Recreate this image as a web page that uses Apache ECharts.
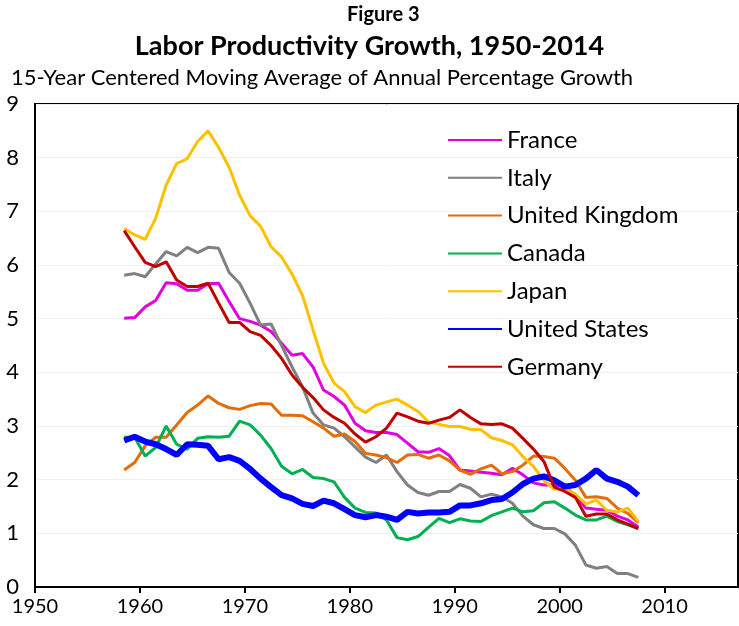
<!DOCTYPE html>
<html>
<head>
<meta charset="utf-8">
<script src="https://cdn.jsdelivr.net/npm/echarts@6/dist/echarts.min.js"></script>
<style>
  html, body { margin: 0; padding: 0; background: #fff; }
  #chart { width: 739px; height: 626px; }
</style>
</head>
<body>
<div id="chart"></div>
<script>
// centre year of each 15-year window
var years = [1958.5, 1959.5, 1960.5, 1961.5, 1962.5, 1963.5, 1964.5, 1965.5, 1966.5, 1967.5,
  1968.5, 1969.5, 1970.5, 1971.5, 1972.5, 1973.5, 1974.5, 1975.5, 1976.5, 1977.5,
  1978.5, 1979.5, 1980.5, 1981.5, 1982.5, 1983.5, 1984.5, 1985.5, 1986.5, 1987.5,
  1988.5, 1989.5, 1990.5, 1991.5, 1992.5, 1993.5, 1994.5, 1995.5, 1996.5, 1997.5,
  1998.5, 1999.5, 2000.5, 2001.5, 2002.5, 2003.5, 2004.5, 2005.5, 2006.5, 2007.5];

var france = [5.01, 5.02, 5.22, 5.34, 5.67, 5.65, 5.53, 5.53, 5.65, 5.66,
  5.32, 5.0, 4.95, 4.88, 4.76, 4.54, 4.32, 4.35, 4.1, 3.67,
  3.55, 3.39, 3.05, 2.91, 2.88, 2.88, 2.84, 2.68, 2.52, 2.51,
  2.58, 2.45, 2.18, 2.16, 2.14, 2.12, 2.09, 2.21, 2.09, 1.94,
  1.9, 1.9, 1.88, 1.7, 1.47, 1.45, 1.43, 1.32, 1.25, 1.12];
var italy = [5.81, 5.84, 5.78, 6.02, 6.25, 6.17, 6.33, 6.23, 6.33, 6.31,
  5.86, 5.66, 5.29, 4.88, 4.9, 4.5, 4.1, 3.73, 3.24, 3.02,
  2.96, 2.8, 2.61, 2.42, 2.32, 2.46, 2.15, 1.9, 1.76, 1.71,
  1.78, 1.78, 1.91, 1.84, 1.68, 1.73, 1.68, 1.56, 1.32, 1.16,
  1.09, 1.09, 0.99, 0.78, 0.41, 0.35, 0.38, 0.25, 0.25, 0.18];
var uk = [2.18, 2.32, 2.63, 2.79, 2.79, 3.02, 3.25, 3.39, 3.56, 3.42,
  3.34, 3.31, 3.38, 3.42, 3.41, 3.2, 3.2, 3.19, 3.08, 2.96,
  2.81, 2.85, 2.71, 2.49, 2.46, 2.41, 2.32, 2.46, 2.47, 2.4,
  2.46, 2.35, 2.18, 2.1, 2.2, 2.27, 2.11, 2.15, 2.27, 2.44,
  2.43, 2.4, 2.21, 1.99, 1.67, 1.68, 1.65, 1.47, 1.37, 1.2];
var canada = [2.79, 2.79, 2.44, 2.6, 3.0, 2.66, 2.57, 2.77, 2.8, 2.79,
  2.81, 3.09, 3.02, 2.83, 2.58, 2.25, 2.11, 2.19, 2.04, 2.02,
  1.96, 1.67, 1.47, 1.39, 1.38, 1.25, 0.92, 0.88, 0.94, 1.11,
  1.28, 1.2, 1.27, 1.23, 1.22, 1.33, 1.4, 1.47, 1.4, 1.42,
  1.57, 1.59, 1.47, 1.34, 1.25, 1.25, 1.32, 1.22, 1.16, 1.09];
var japan = [6.68, 6.56, 6.48, 6.87, 7.49, 7.89, 7.98, 8.3, 8.5, 8.19,
  7.82, 7.3, 6.92, 6.72, 6.34, 6.15, 5.83, 5.43, 4.79, 4.17,
  3.8, 3.64, 3.36, 3.25, 3.39, 3.45, 3.5, 3.39, 3.27, 3.08,
  3.03, 2.99, 2.99, 2.94, 2.93, 2.78, 2.73, 2.65, 2.43, 2.25,
  1.98, 1.82, 1.84, 1.73, 1.55, 1.62, 1.43, 1.4, 1.47, 1.22];
var us = [2.73, 2.8, 2.71, 2.66, 2.57, 2.46, 2.66, 2.65, 2.63, 2.38,
  2.42, 2.35, 2.2, 2.02, 1.86, 1.71, 1.65, 1.55, 1.51, 1.61,
  1.56, 1.45, 1.34, 1.3, 1.34, 1.31, 1.25, 1.4, 1.37, 1.39,
  1.39, 1.4, 1.52, 1.52, 1.56, 1.62, 1.64, 1.76, 1.92, 2.02,
  2.06, 1.99, 1.87, 1.9, 2.02, 2.18, 2.02, 1.96, 1.87, 1.71];
var germany = [6.64, 6.34, 6.05, 5.97, 6.06, 5.72, 5.6, 5.6, 5.66, 5.29,
  4.93, 4.93, 4.76, 4.69, 4.5, 4.26, 3.95, 3.72, 3.53, 3.3,
  3.16, 3.05, 2.85, 2.7, 2.8, 2.96, 3.24, 3.17, 3.09, 3.05,
  3.11, 3.16, 3.3, 3.16, 3.04, 3.03, 3.04, 2.96, 2.77, 2.57,
  2.34, 1.86, 1.78, 1.67, 1.32, 1.36, 1.36, 1.25, 1.17, 1.09];

var countries = ["France", "Italy", "United Kingdom", "Canada", "Japan", "United States", "Germany"];
var values = [france, italy, uk, canada, japan, us, germany];
var colors = ["#E000E0", "#808080", "#E46C0A", "#00B050", "#FFC000", "#0000FF", "#C00000"];

var font = "Lato";

function pairs(arr) {
  return arr.map(function (v, i) { return [years[i], v]; });
}

var series = countries.map(function (name, k) {
  return {
    name: name,
    type: "line",
    data: pairs(values[k]),
    symbol: "none",
    lineStyle: { color: colors[k], width: name === "United States" ? 6 : 3 },
    itemStyle: { color: colors[k] },
    animation: false,
  };
});

var chart = echarts.init(document.getElementById("chart"));
chart.setOption({
  backgroundColor: "#fff",
  title: [
    {
      text: "Figure 3",
      left: 342,
      top: 0,
      textStyle: { fontFamily: font, fontSize: 20, fontWeight: "bold", color: "#000" },
    },
    {
      text: "Labor Productivity Growth, 1950-2014",
      left: "center",
      top: 28,
      textStyle: { fontFamily: font, fontSize: 27, fontWeight: "bold", color: "#000" },
    },
    {
      text: "15-Year Centered Moving Average of Annual Percentage Growth",
      left: 6,
      top: 62,
      textStyle: { fontFamily: font, fontSize: 22, fontWeight: "normal", color: "#000" },
    },
  ],
  legend: {
    orient: "vertical",
    left: 447,
    top: 128,
    padding: 0,
    itemWidth: 54,
    itemHeight: 14,
    itemGap: 13.8,
    data: countries,
    itemStyle: { opacity: 0, borderWidth: 0 },
    textStyle: { fontFamily: font, fontSize: 24, color: "#000", lineHeight: 24 },
  },
  grid: {
    left: 35,
    right: 1,
    top: 104,
    bottom: 39,
    show: true,
    borderColor: "#000",
    borderWidth: 2,
  },
  xAxis: {
    type: "value",
    min: 1950,
    max: 2017,
    interval: 10,
    axisLine: { lineStyle: { color: "#000", width: 2 } },
    axisTick: { show: true, length: 6, lineStyle: { color: "#000", width: 2 } },
    axisLabel: {
      fontFamily: font, fontSize: 20, color: "#000", margin: 10,
      showMaxLabel: false,
      formatter: function (v) { return String(v); },
    },
    splitLine: { show: false },
  },
  yAxis: {
    type: "value",
    min: 0,
    max: 9,
    interval: 1,
    axisLine: { show: true, lineStyle: { color: "#000", width: 2 } },
    axisTick: { show: false },
    axisLabel: { fontFamily: font, fontSize: 22, color: "#000", margin: 16 },
    splitLine: { show: true, lineStyle: { color: "#f0f0f0", width: 1 } },
  },
  series: series,
});
</script>
</body>
</html>
